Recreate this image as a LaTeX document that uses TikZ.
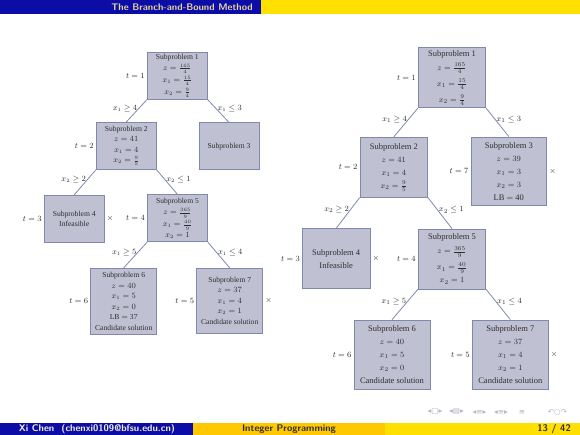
\documentclass[tikz,border=0pt]{standalone}
\usepackage{fontspec}
\setmainfont{Liberation Serif}
\newfontfamily\navfont{DejaVu Sans}
\usepackage{tikz}
\usetikzlibrary{positioning}
\definecolor{headblue}{HTML}{0C0CA6}
\definecolor{headyellow}{HTML}{FFE000}
\definecolor{footorange}{HTML}{FFC800}
\definecolor{headtext}{HTML}{E3D49B}
\definecolor{authortext}{HTML}{F4EFD8}
\definecolor{nodefill}{HTML}{BFC0D2}
\definecolor{nodeline}{HTML}{7F89AE}
\definecolor{inkgray}{HTML}{2E2E2E}
\definecolor{navgray}{HTML}{B4B4C8}

\begin{document}
\begin{tikzpicture}[x=1pt, y=-1pt,
    lbox/.style={rectangle, draw=nodeline, fill=nodefill, line width=0.8pt, minimum width=60pt, minimum height=47pt, inner sep=0pt, align=center, text=inkgray, font=\fontsize{7.6}{10.5}\selectfont},
    rbox/.style={lbox, minimum width=67.5pt, minimum height=60pt, font=\fontsize{8.5}{13}\selectfont},
    ltag/.style={text=inkgray, inner sep=1pt, font=\fontsize{7.6}{9}\selectfont},
    rtag/.style={ltag, font=\fontsize{8.5}{10}\selectfont},
    branch/.style={draw=nodeline, line width=0.8pt},
    barlabel/.style={font=\sffamily\bfseries\fontsize{9.6}{11}\selectfont, inner sep=0pt},
    navicon/.style={text=navgray, font=\navfont\fontsize{7.5}{8}\selectfont, inner sep=0pt}
]
\useasboundingbox (0,0) rectangle (580,435);
\fill[white] (0,0) rectangle (580,435);

% head and foot bars
\fill[headblue] (0,0) rectangle (261,14.5);
\fill[headyellow] (261,0) rectangle (580,14.5);
\node[barlabel, text=headtext, anchor=east] (headtitle) at (253,7.5) {The Branch-and-Bound Method};
\fill[headblue] (0,422.7) rectangle (193.3,435);
\fill[footorange] (193.3,422.7) rectangle (385,435);
\fill[headyellow] (385,422.7) rectangle (580,435);
\node[barlabel, text=authortext] (author) at (97,429) {Xi Chen\ \ (chenxi0109@bfsu.edu.cn)};
\node[barlabel, text=inkgray] (talk) at (289,429) {Integer Programming};
\node[barlabel, text=inkgray, anchor=east] (page) at (571,429) {13 / 42};
\node[navicon] (navframe) at (435,412) {◂□▸};
\node[navicon] (navsub) at (456.5,412) {◂▤▸};
\node[navicon] (navsec) at (479.5,412) {◂≡▸};
\node[navicon] (navdoc) at (501,412) {◂≡▸};
\node[navicon] (navapp) at (522,412) {≡};
\node[navicon] (navfind) at (557.5,412) {↶○↷};

% left tree
\node[lbox] (l1) at (177.3,75.8) {Subproblem 1\\[1pt]$z = \frac{165}{4}$\\[1.5pt]$x_1 = \frac{15}{4}$\\[1.5pt]$x_2 = \frac{9}{4}$};
\node[lbox] (l2) at (126.2,146) {Subproblem 2\\$z = 41$\\$x_1 = 4$\\$x_2 = \frac{9}{5}$};
\node[lbox] (l3) at (229,146.3) {Subproblem 3};
\node[lbox] (l4) at (74.2,218.8) {Subproblem 4\\Infeasible};
\node[lbox] (l5) at (177.5,218.3) {Subproblem 5\\[1pt]$z = \frac{365}{9}$\\[1.5pt]$x_1 = \frac{40}{9}$\\$x_2 = 1$};
\node[lbox, minimum width=66pt, minimum height=66pt] (l6) at (123.7,301.2) {Subproblem 6\\$z = 40$\\$x_1 = 5$\\$x_2 = 0$\\LB $=$ 37\\Candidate solution};
\node[lbox, minimum width=66pt, minimum height=65pt] (l7) at (229.7,300.8) {Subproblem 7\\$z = 37$\\$x_1 = 4$\\$x_2 = 1$\\Candidate solution};

\node[ltag, left=1pt of l1.west] (lt1) {$t = 1$};
\node[ltag, left=1pt of l2.west] (lt2) {$t = 2$};
\node[ltag, left=1pt of l4.west] (lt3) {$t = 3$};
\node[ltag, left=1pt of l5.west] (lt4) {$t = 4$};
\node[ltag, left=1pt of l7.west] (lt5) {$t = 5$};
\node[ltag, left=1pt of l6.west] (lt6) {$t = 6$};
\node[ltag, right=1pt of l4.east] (lx4) {$\times$};
\node[ltag, right=1pt of l7.east] (lx7) {$\times$};

\draw[branch] (l1.south west) -- node[ltag, left, pos=0.4] {$x_1 \geq 4$} (l2.north);
\draw[branch] (l1.south east) -- node[ltag, right, pos=0.4] {$x_1 \leq 3$} (l3.north);
\draw[branch] (l2.south west) -- node[ltag, left, pos=0.4] {$x_2 \geq 2$} (l4.north);
\draw[branch] (l2.south east) -- node[ltag, right, pos=0.4] {$x_2 \leq 1$} (l5.north);
\draw[branch] (l5.south west) -- node[ltag, left, pos=0.4] {$x_1 \geq 5$} (l6.north);
\draw[branch] (l5.south east) -- node[ltag, right, pos=0.4] {$x_1 \leq 4$} (l7.north);

% right tree
\node[rbox] (r1) at (452,77.8) {Subproblem 1\\[1pt]$z = \frac{165}{4}$\\[3pt]$x_1 = \frac{15}{4}$\\[3pt]$x_2 = \frac{9}{4}$};
\node[rbox] (r2) at (393.8,167.2) {Subproblem 2\\$z = 41$\\$x_1 = 4$\\$x_2 = \frac{9}{5}$};
\node[rbox, minimum width=75.7pt, minimum height=68.7pt] (r3) at (508.8,171.3) {Subproblem 3\\$z = 39$\\$x_1 = 3$\\$x_2 = 3$\\LB $=$ 40};
\node[rbox] (r4) at (336.2,258.7) {Subproblem 4\\Infeasible};
\node[rbox] (r5) at (452,259) {Subproblem 5\\[1pt]$z = \frac{365}{9}$\\[3pt]$x_1 = \frac{40}{9}$\\$x_2 = 1$};
\node[rbox, minimum width=76pt, minimum height=69.3pt] (r6) at (392,354.7) {Subproblem 6\\$z = 40$\\$x_1 = 5$\\$x_2 = 0$\\Candidate solution};
\node[rbox, minimum width=76pt, minimum height=69pt] (r7) at (510.3,354.5) {Subproblem 7\\$z = 37$\\$x_1 = 4$\\$x_2 = 1$\\Candidate solution};

\node[rtag, left=1pt of r1.west] (rt1) {$t = 1$};
\node[rtag, left=1pt of r2.west] (rt2) {$t = 2$};
\node[rtag, left=1pt of r4.west] (rt3) {$t = 3$};
\node[rtag, left=1pt of r5.west] (rt4) {$t = 4$};
\node[rtag, left=1pt of r7.west] (rt5) {$t = 5$};
\node[rtag, left=1pt of r6.west] (rt6) {$t = 6$};
\node[rtag, left=1pt of r3.west] (rt7) {$t = 7$};
\node[rtag, right=1pt of r3.east] (rx3) {$\times$};
\node[rtag, right=1pt of r4.east] (rx4) {$\times$};
\node[rtag, right=1pt of r7.east] (rx7) {$\times$};

\draw[branch] (r1.south west) -- node[rtag, left, pos=0.4] {$x_1 \geq 4$} (r2.north);
\draw[branch] (r1.south east) -- node[rtag, right, pos=0.4] {$x_1 \leq 3$} (r3.north);
\draw[branch] (r2.south west) -- node[rtag, left, pos=0.4] {$x_2 \geq 2$} (r4.north);
\draw[branch] (r2.south east) -- node[rtag, right, pos=0.4] {$x_2 \leq 1$} (r5.north);
\draw[branch] (r5.south west) -- node[rtag, left, pos=0.4] {$x_1 \geq 5$} (r6.north);
\draw[branch] (r5.south east) -- node[rtag, right, pos=0.4] {$x_1 \leq 4$} (r7.north);
\end{tikzpicture}
\end{document}
